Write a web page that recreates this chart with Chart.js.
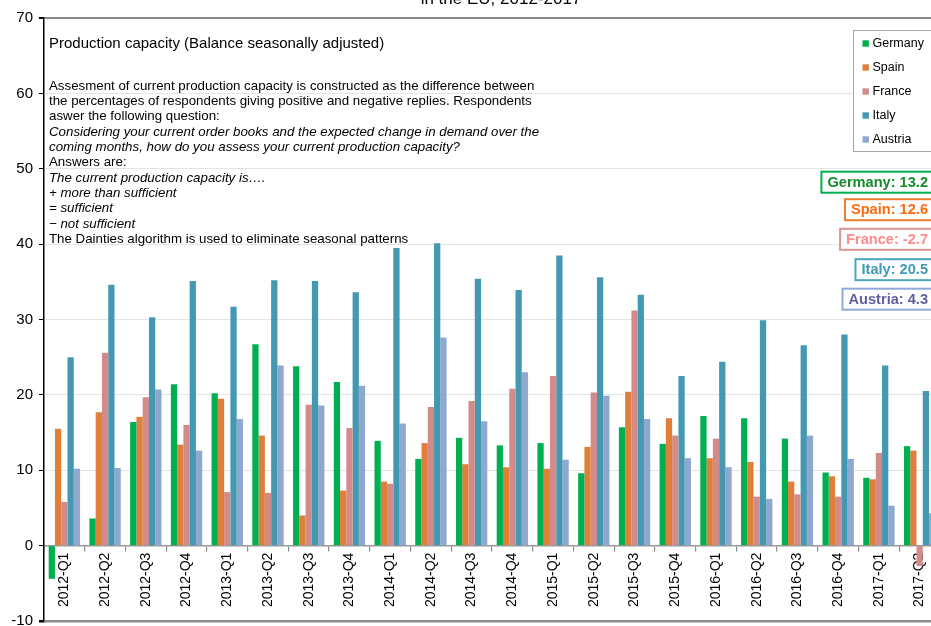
<!DOCTYPE html>
<html>
<head>
<meta charset="utf-8">
<script src="https://cdn.jsdelivr.net/npm/chart.js@4"></script>
<style>
  html, body { margin: 0; padding: 0; background: #fff; overflow: hidden; width: 931px; height: 626px; }
  #wrap { position: absolute; left: 0; top: 0; width: 940px; height: 626px; }
</style>
</head>
<body>
<div id="wrap"><canvas id="c" width="940" height="626"></canvas></div>
<script>
const categories = ["2012-Q1","2012-Q2","2012-Q3","2012-Q4","2013-Q1","2013-Q2","2013-Q3","2013-Q4",
  "2014-Q1","2014-Q2","2014-Q3","2014-Q4","2015-Q1","2015-Q2","2015-Q3","2015-Q4",
  "2016-Q1","2016-Q2","2016-Q3","2016-Q4","2017-Q1","2017-Q2"];
const germany = [-4.4, 3.6, 16.4, 21.4, 20.2, 26.7, 23.8, 21.7, 13.9, 11.5, 14.3, 13.3, 13.6, 9.6, 15.7, 13.5, 17.2, 16.9, 14.2, 9.7, 9.0, 13.2];
const spain   = [15.5, 17.7, 17.1, 13.4, 19.5, 14.6, 4.0, 7.3, 8.5, 13.6, 10.8, 10.4, 10.2, 13.1, 20.4, 16.9, 11.6, 11.1, 8.5, 9.2, 8.8, 12.6];
const france  = [5.8, 25.6, 19.7, 16.0, 7.1, 7.0, 18.7, 15.6, 8.2, 18.4, 19.2, 20.8, 22.5, 20.3, 31.2, 14.6, 14.2, 6.5, 6.8, 6.5, 12.3, -2.7];
const italy   = [25.0, 34.6, 30.3, 35.1, 31.7, 35.2, 35.1, 33.6, 39.5, 40.1, 35.4, 33.9, 38.5, 35.6, 33.3, 22.5, 24.4, 29.9, 26.6, 28.0, 23.9, 20.5];
const austria = [10.2, 10.3, 20.7, 12.6, 16.8, 23.9, 18.6, 21.2, 16.2, 27.6, 16.5, 23.0, 11.4, 19.9, 16.8, 11.6, 10.4, 6.2, 14.6, 11.5, 5.3, 4.3];
const seriesNames = ["Germany", "Spain", "France", "Italy", "Austria"];
const yTicks = [-10, 0, 10, 20, 30, 40, 50, 60, 70];

const FONT = '"Liberation Sans", Arial, Helvetica, sans-serif';
const barColors  = ["#00b050", "#e07f3a", "#d28b8b", "#4399b1", "#8fa8cd"];
const textColors = ["#178a2c", "#ff6a10", "#ff8a8a", "#3e9bb3", "#5f5f9f"];
const boxColors  = ["#00b050", "#ed7d31", "#d99594", "#4aa6bf", "#8eaadb"];
const seriesData = [germany, spain, france, italy, austria];

const titleText = "in the EU, 2012-2017";
const noteTitle = "Production capacity (Balance seasonally adjusted)";
const noteLines = [
  ["Assesment of current production capacity is constructed as the difference between", false],
  ["the percentages of respondents giving positive and negative replies. Respondents", false],
  ["aswer the following question:", false],
  ["Considering your current order books and the expected change in demand over the", true],
  ["coming months, how do you assess your current production capacity?", true],
  ["Answers are:", false],
  ["The current production capacity is\u2026.", true],
  ["+ more than sufficient", true],
  ["= sufficient", true],
  ["\u2212 not sufficient", true],
  ["The Dainties algorithm is used to eliminate seasonal patterns", false]
];

const overlay = {
  id: 'overlay',
  afterDraw(chart) {
    const ctx = chart.ctx;
    ctx.save();
    // Title (cut at top)
    ctx.fillStyle = '#000';
    ctx.font = '17px ' + FONT;
    ctx.textAlign = 'center';
    ctx.textBaseline = 'alphabetic';
    ctx.fillText(titleText, 501, 3.5);

    // Note text
    ctx.textAlign = 'left';
    ctx.textBaseline = 'middle';
    ctx.font = '15px ' + FONT;
    ctx.fillText(noteTitle, 49, 43.5);
    noteLines.forEach((ln, i) => {
      ctx.font = (ln[1] ? 'italic ' : '') + '13.3px ' + FONT;
      ctx.fillText(ln[0], 49, 86 + i * 15.35);
    });

    // Legend
    ctx.fillStyle = '#fff';
    ctx.fillRect(853.5, 30.5, 90, 121);
    ctx.strokeStyle = '#a6a6a6';
    ctx.lineWidth = 1;
    ctx.strokeRect(853.5, 30.5, 90, 121);
    ctx.font = '12.5px ' + FONT;
    seriesNames.forEach((n, i) => {
      const cy = 43.5 + i * 24;
      ctx.fillStyle = barColors[i];
      ctx.fillRect(862.5, cy - 3.2, 6.4, 6.4);
      ctx.fillStyle = '#000';
      ctx.fillText(n, 872.5, cy);
    });

    // Last-value labels
    ctx.font = 'bold 14.6px ' + FONT;
    ctx.textAlign = 'right';
    const labelCenters = [182.2, 209.7, 239.3, 269.7, 299.2];
    seriesNames.forEach((n, i) => {
      const arr = seriesData[i];
      const txt = n + ': ' + arr[arr.length - 1].toFixed(1);
      const w = ctx.measureText(txt).width;
      const right = 928;
      const cy = labelCenters[i];
      const bx = right - w - 6;
      ctx.fillStyle = '#fff';
      ctx.fillRect(bx, cy - 10.5, w + 12, 21);
      ctx.strokeStyle = boxColors[i];
      ctx.lineWidth = 2;
      ctx.strokeRect(bx, cy - 10.5, w + 12, 21);
      ctx.fillStyle = textColors[i];
      ctx.fillText(txt, right, cy + 0.5);
    });
    ctx.restore();
  }
};

new Chart(document.getElementById('c'), {
  type: 'bar',
  data: {
    labels: categories,
    datasets: seriesNames.map((n, i) => ({
      label: n,
      data: seriesData[i],
      backgroundColor: barColors[i],
      borderWidth: 0,
      barPercentage: 1.0,
      categoryPercentage: 0.77
    }))
  },
  options: {
    responsive: false,
    animation: false,
    devicePixelRatio: 1,
    layout: { padding: { top: 18, bottom: 5, left: 0, right: 0 } },
    plugins: { legend: { display: false }, tooltip: { enabled: false }, title: { display: false } },
    scales: {
      x: {
        type: 'category',
        position: { y: 0 },
        offset: true,
        grid: {
          display: true, offset: true, drawOnChartArea: false, drawTicks: true,
          tickLength: 5, color: '#8c8c8c', tickColor: '#8c8c8c', lineWidth: 1.2
        },
        border: { display: true, color: '#9a9a9a', width: 1.5 },
        ticks: {
          autoSkip: false, minRotation: 90, maxRotation: 90, padding: 2,
          color: '#000', font: { family: FONT, size: 14 }
        },
        afterFit(s) { s.height = 0; s.paddingLeft = 0; s.paddingRight = 0; }
      },
      y: {
        min: -10, max: 70,
        afterBuildTicks(s) { s.ticks = yTicks.map(v => ({ value: v })); },
        grid: {
          drawTicks: true, tickLength: 5,
          color: (c) => (c.tick && (c.tick.value === 70 || c.tick.value === -10)) ? '#8c8c8c' : '#e4e4e4',
          lineWidth: (c) => (c.tick && c.tick.value === 70) ? 2 : (c.tick && c.tick.value === -10) ? 2.5 : 1,
          tickColor: '#000'
        },
        border: { display: true, color: '#000', width: 1.5 },
        ticks: { padding: 6, color: '#000', font: { family: FONT, size: 15 } },
        afterFit(s) { s.width = 44; s.paddingTop = 0; s.paddingBottom = 0; }
      }
    }
  },
  plugins: [overlay]
});
</script>
</body>
</html>
